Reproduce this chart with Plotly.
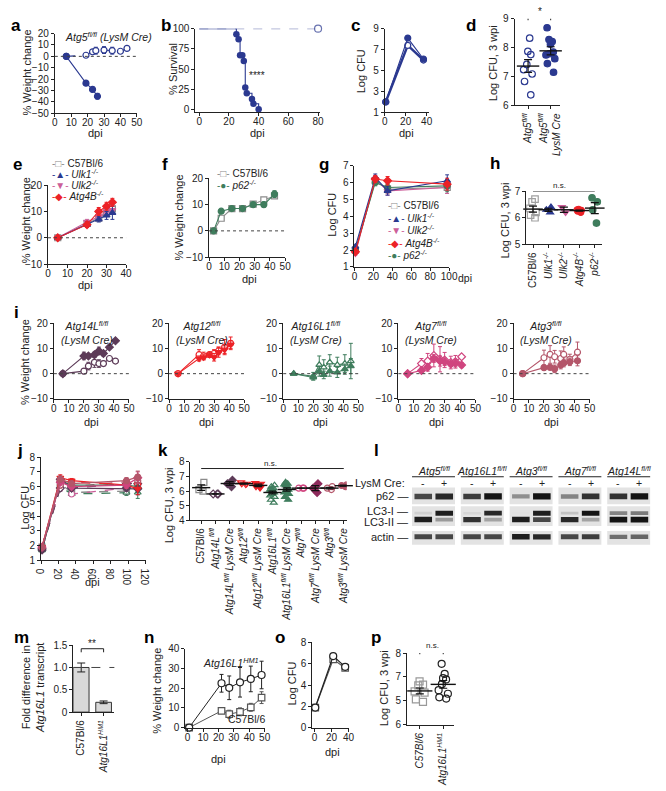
import numpy as np
import plotly.graph_objects as go

W, H = 666, 791
FONT = "Liberation Sans, Arial, sans-serif"

# ---------------- DATA ----------------
# a
a_x_cre = [7, 19, 23, 26]
a_y_cre = [0, -23.5, -29, -35]
a_e_cre = [0.5, 2, 2, 2.5]
a_x_fl = [7, 19, 23, 25, 30, 35, 40, 44]
a_y_fl = [0, 1, 4, 5, 5.5, 5, 4.5, 7]
a_e_fl = [0, 1, 2, 3, 3, 3, 1, 1.5]
# b
b_x_cre = [0, 25, 26.5, 27.5, 29, 30, 31, 32, 35.5, 36.5, 40]
b_y_cre = [100, 93, 87, 67, 67, 60, 27, 20, 13, 7, 0]
b_x_fl = [0, 80]
b_y_fl = [100, 100]
# c
c_x = [1, 22, 37]
c_y_cre = [2.0, 8.1, 6.1]
c_y_fl = [2.0, 7.4, 6.0]
# d
d_labels = ["<i>Atg5<sup>fl/fl</sup></i>", "<i>Atg5<sup>fl/fl</sup><br>LysM Cre</i>"]
d_fl = [8.33, 7.87, 7.76, 7.42, 7.24, 7.09, 6.83, 6.37]
d_cre = [8.69, 8.28, 8.21, 8.12, 7.85, 7.79, 7.75, 7.62, 7.45, 7.15]
# e
e_x = [5, 20, 26, 30, 33]
e_c57 = [0, 5.5, 7.5, 9.5, 11]
e_c57_err = [0, 1, 1.2, 1.5, 1.8]
e_ulk1 = [0, 5, 7, 8.5, 9.5]
e_ulk1_err = [0, 1, 1, 1.5, 2.5]
e_ulk2 = [0, 6, 8, 10, 10.5]
e_ulk2_err = [0, 1, 1, 1, 1.5]
e_atg4b = [0, 5, 10, 12, 13.5]
e_atg4b_err = [0, 1, 1.5, 1.5, 1.5]
# f
f_x = [3, 8, 15, 22, 29, 36, 43]
f_c57 = [0, 4.8, 8.5, 8.5, 10.2, 11.8, 13.3]
f_p62 = [0, 7.5, 8.5, 8.5, 10, 10, 14]
f_p62_err = [0, 0.3, 0.5, 0.5, 0.5, 1, 1.3]
# g
g_x = [1, 22, 35, 98]
g_c57 = [2.0, 6.1, 5.6, 5.7]
g_ulk1 = [2.2, 6.3, 5.5, 6.1]
g_ulk2 = [1.8, 6.2, 5.5, 5.7]
g_atg4b = [1.9, 6.2, 6.1, 5.9]
g_p62 = [2.0, 6.0, 5.7, 5.8]
g_err = [0.1, 0.2, 0.25, 0.35]
# h
h_labels = ["C57Bl/6", "<i>Ulk1<sup>-/-</sup></i>", "<i>Ulk2<sup>-/-</sup></i>",
            "<i>Atg4B<sup>-/-</sup></i>", "<i>p62<sup>-/-</sup></i>"]
h_c57 = [6.7, 6.6, 6.35, 6.2, 6.1, 6.0]
h_ulk1 = [6.4, 6.3, 6.2]
h_ulk2 = [6.4, 6.2]
h_atg4b = [6.32, 6.3, 6.28, 6.25, 6.2]
h_p62 = [6.75, 6.6, 6.3, 5.8]
# i
i1_x = [6, 20, 23, 27, 30, 33, 37, 41]
i1_fl = [0, 1, 3, 4.5, 4, 4, 6, 5]
i1_fl_err = [0, 1, 1.5, 2, 1.5, 1, 0.5, 0.5]
i1_cre = [0, 7, 7, 7.5, 9, 8, 10.5, 13]
i1_cre_err = [0, 1.5, 1, 1, 1.5, 1, 0.5, 0.5]
i2_x = [6, 20, 23, 27, 30, 33, 37, 41]
i2_fl = [0, 7.5, 7, 7.5, 8, 9, 10.5, 12]
i2_fl_err = [0, 2, 1.5, 1, 1.5, 1.5, 3, 2.5]
i2_cre = [0, 6, 6.5, 7.5, 6.5, 8.5, 9.5, 11.5]
i2_cre_err = [0, 1, 1, 1, 1.5, 2, 1.5, 1.5]
i3_x = [7, 20, 24, 27, 31, 36, 41, 45]
i3_fl = [0, -1, 3.5, 2.5, 4.5, 3.5, 4, 5]
i3_fl_err = [0, 1.5, 3.5, 3, 3, 3, 3.5, 7]
i3_cre = [0, -1.5, 1, -0.5, 1, 0.5, 1.8, 3]
i3_cre_err = [0, 1, 2, 1.5, 2, 2, 2, 3]
i4_x = [6, 15, 19, 23, 27, 30, 34, 37, 41]
i4_fl = [0, 4, 5, 7.2, 5.7, 5.4, 4.4, 4.7, 6.7]
i4_fl_err = [0, 2, 3, 4.5, 5, 3, 2.5, 2.5, 0.5]
i4_cre = [0, 1.3, 2.5, 6, 5, 4.7, 3.8, 4.2, 3.4]
i4_cre_err = [0, 1, 1.5, 1.5, 2, 1.5, 1, 1.5, 1]
i5_x = [6, 20, 24, 27, 31, 33, 37, 42]
i5_fl = [0, 6.3, 7.6, 6.7, 6, 7.6, 5.7, 8.5]
i5_fl_err = [0, 3, 3.5, 2.5, 3, 3, 2, 4]
i5_cre = [0, 2.4, 2.5, 1.9, 3.4, 4.2, 4.7, 5.1]
i5_cre_err = [0, 1, 0.5, 1.5, 1.5, 1.5, 1.5, 2]
i_titles = ["Atg14L", "Atg12", "Atg16L1", "Atg7", "Atg3"]
# j
j_x = [1, 22, 35, 98, 111]
j_c57 = [1.9, 6.2, 5.6, 5.7, None]
j_14_fl = [1.8, 5.9, 5.9, 6.2, 6.2]
j_14_cre = [1.7, 6.5, 5.9, 5.9, 5.85]
j_12_fl = [1.9, 6.4, 6.3, 6.1, 6.2]
j_12_cre = [1.9, 6.6, 6.4, 6.1, 5.85]
j_16_fl = [1.8, 6.0, 5.5, 5.6, 5.6]
j_16_cre = [1.7, 6.4, 6.1, 6.1, 6.0]
j_7_fl = [1.9, 5.9, 5.5, 5.9, 6.1]
j_7_cre = [1.9, 6.3, 6.0, 6.1, 6.6]
j_3_fl = [1.9, 6.1, 6.0, 6.3, 6.4]
j_3_cre = [1.9, 6.5, 6.2, 6.4, 6.65]
j_err = [0.15, 0.2, 0.15, 0.2, 0.4]
# k
k_labels = ["C57Bl/6", "<i>Atg14L<sup>fl/fl</sup></i>", "<i>Atg14L<sup>fl/fl</sup> LysM Cre</i>",
            "<i>Atg12<sup>fl/fl</sup></i>", "<i>Atg12<sup>fl/fl</sup> LysM Cre</i>",
            "<i>Atg16L1<sup>fl/fl</sup></i>", "<i>Atg16L1<sup>fl/fl</sup> LysM Cre</i>",
            "<i>Atg7<sup>fl/fl</sup></i>", "<i>Atg7<sup>fl/fl</sup> LysM Cre</i>",
            "<i>Atg3<sup>fl/fl</sup></i>", "<i>Atg3<sup>fl/fl</sup> LysM Cre</i>"]
k_values = [
    [6.6, 6.1, 6.0],
    [5.8, 5.8, 5.8],
    [6.75, 6.5, 6.3],
    [6.6, 6.5, 6.45, 6.5],
    [6.55, 6.5, 6.2, 6.3],
    [6.4, 6.3, 6.2, 6.1, 6.0, 6.0, 5.9, 5.8, 5.7, 5.6, 5.4, 5.2, 6.1],
    [6.6, 6.5, 6.45, 6.4, 6.3, 6.2, 6.1, 6.0, 5.9, 5.8, 5.6, 5.4],
    [6.2, 6.2, 6.2],
    [6.5, 6.2, 5.9],
    [6.3, 6.2, 6.1],
    [6.42, 6.38, 6.3],
]
# l (band intensities, 0..1) per genotype [-, +]
l_genotypes = ["Atg5", "Atg16L1", "Atg3", "Atg7", "Atg14L"]
l_p62 = [[0.75, 0.9], [0.8, 1.0], [0.4, 1.0], [0.45, 0.85], [0.85, 1.0]]
l_lc3i = [[0.08, 0.95], [0.05, 0.9], [0.0, 0.95], [0.15, 1.0], [0.45, 0.5]]
l_lc3ii = [[0.95, 0.35], [0.85, 0.3], [0.95, 0.75], [0.9, 0.3], [1.0, 1.0]]
l_actin = [[0.75, 0.75], [0.75, 0.75], [0.95, 0.9], [0.75, 0.8], [0.55, 0.6]]
# m
m_labels = ["C57Bl/6", "<i>Atg16L1<sup>HM1</sup></i>"]
m_vals = [1.0, 0.22]
m_err = [0.1, 0.03]
# n
n_x = [1, 22, 27, 34, 41, 48]
n_hm1 = [0, 22.5, 20.2, 23, 24.7, 26.7]
n_hm1_err = [0, 4.5, 6, 7.5, 6.5, 7]
n_c57 = [0, 8.5, 6.8, 8, 10.3, 15.2]
n_c57_err = [0, 1, 2, 2, 2, 3]
# o
o_x = [1, 22, 36]
o_hm1 = [1.9, 6.7, 5.7]
o_c57 = [1.9, 6.4, 5.6]
# p  (axis labelled 8,7,5,6 top to bottom as in the source)
p_labels = ["<i>C57Bl/6</i>", "<i>Atg16L1<sup>HM1</sup></i>"]
p_c57 = [6.82, 6.68, 6.65, 6.4, 6.35, 6.07, 5.96]
p_hm1 = [7.55, 7.13, 6.95, 6.9, 6.7, 6.45, 6.3, 6.15, 6.1]

# ---------------- STYLE ----------------
NAVY = "#2b3990"
GREY = "#8a8a8a"
PINK = "#cc5f9a"
RED = "#ec2227"
GREEN = "#3f7d5d"
PURP = "#5d3b58"
MAG = "#d0457f"
MAUVE = "#b4566a"
TICKF = 10

fig = go.Figure()
layout = {}
shapes = []
annots = []
_n = [0]


def fx(p):
    return p / W


def fy(p):
    return 1 - p / H


def make_axes(xpx, ypx, xr, yr, xticks=None, yticks=None, xtext=None, ytext=None,
              xangle=None, visible=True):
    _n[0] += 1
    n = _n[0]
    s = '' if n == 1 else str(n)
    xk, yk = 'x' + s, 'y' + s
    common = dict(showline=True, linecolor='#222', linewidth=1, ticks='outside', ticklen=3,
                  tickwidth=1, tickcolor='#222', showgrid=False, zeroline=False,
                  tickfont=dict(size=TICKF, color='#222', family=FONT), fixedrange=True,
                  visible=visible)
    xa = dict(common, domain=[fx(xpx[0]), fx(xpx[1])], range=xr, anchor=yk)
    ya = dict(common, domain=[fy(ypx[1]), fy(ypx[0])], range=yr, anchor=xk)
    if xticks is not None:
        xa.update(tickmode='array', tickvals=xticks)
        if xtext is not None:
            xa['ticktext'] = xtext
    if yticks is not None:
        ya.update(tickmode='array', tickvals=yticks)
        if ytext is not None:
            ya['ticktext'] = ytext
    if xangle is not None:
        xa['tickangle'] = xangle
    else:
        xa['ticklabelstandoff'] = -3
    layout['xaxis' + s] = xa
    layout['yaxis' + s] = ya
    return xk, yk


def txt(xp, yp, text, size=11, angle=0, xa='center', ya='middle', color='#222'):
    annots.append(dict(x=fx(xp), y=fy(yp), xref='paper', yref='paper', text=text,
                       showarrow=False, font=dict(size=size, color=color, family=FONT),
                       textangle=angle, xanchor=xa, yanchor=ya))


def letter(xp, yp, t):
    txt(xp, yp, "<b>%s</b>" % t, size=17, xa='center', ya='middle', color='black')


def zero_line(xk, yk, val=0, dash='dot'):
    shapes.append(dict(type='line', xref=xk + ' domain', yref=yk, x0=0, x1=1, y0=val, y1=val,
                       line=dict(color='#444', width=1, dash=dash)))


def series(xk, yk, x, y, color, symbol='circle', filled=True, err=None, dash='solid',
           size=6, lw=1.1):
    marker = dict(symbol=symbol, size=size,
                  color=color if filled else 'white', line=dict(color=color, width=1.2))
    tr = go.Scatter(x=x, y=y, xaxis=xk, yaxis=yk, mode='lines+markers',
                    line=dict(color=color, width=lw, dash=dash), marker=marker,
                    showlegend=False, cliponaxis=False, connectgaps=False)
    if err is not None:
        tr.error_y = dict(type='data', array=err, color=color, thickness=1, width=2)
    fig.add_trace(tr)


def dots(xk, yk, pos, vals, color, symbol, filled, size=6, jitter=0.7, width=0.6, mw=16):
    fig.add_trace(go.Box(x=[pos] * len(vals), y=vals, xaxis=xk, yaxis=yk, boxpoints='all',
                         jitter=jitter, pointpos=0, width=width,
                         fillcolor='rgba(0,0,0,0)', line=dict(color='rgba(0,0,0,0)', width=0),
                         marker=dict(symbol=symbol, size=size,
                                     color=color if filled else 'rgba(255,255,255,0)',
                                     line=dict(color=color, width=1.2)),
                         showlegend=False, hoverinfo='skip'))
    m = float(np.mean(vals))
    s = float(np.std(vals, ddof=1) / np.sqrt(len(vals)))
    fig.add_trace(go.Scatter(x=[pos], y=[m], xaxis=xk, yaxis=yk, mode='markers',
                             marker=dict(symbol='line-ew', size=mw,
                                         line=dict(color='#111', width=1.4)),
                             error_y=dict(type='data', array=[s], color='#111', thickness=1.2,
                                          width=4),
                             showlegend=False, cliponaxis=False))


def bracket(xk, yk, x0, x1, ytop, ybot):
    shapes.append(dict(type='path', xref=xk, yref=yk,
                       path=f"M {x0},{ybot} L {x0},{ytop} L {x1},{ytop} L {x1},{ybot}",
                       line=dict(color='#222', width=1)))


def hline(xk, yk, x0, x1, yv):
    shapes.append(dict(type='line', xref=xk, yref=yk, x0=x0, x1=x1, y0=yv, y1=yv,
                       line=dict(color='#222', width=1)))


def legend_rows(x0, y0, dy, items):
    for i, (c, sym, lab) in enumerate(items):
        txt(x0, y0 + i * dy, f"<span style='color:{c}'>-{sym}-</span> {lab}", size=10, xa='left')


# ---------------- PANEL a ----------------
xk, yk = make_axes((49, 133), (28, 109), [0, 50], [-50, 20],
                   xticks=list(range(0, 51, 10)), yticks=list(range(-50, 21, 10)))
zero_line(xk, yk)
series(xk, yk, a_x_fl, a_y_fl, NAVY, 'circle', False, a_e_fl, dash='dash')
series(xk, yk, a_x_cre, a_y_cre, NAVY, 'circle', True, a_e_cre)
txt(20, 68, "% Weight change", angle=-90)
txt(91, 129, "dpi")
txt(57, 31, "<i>Atg5<sup>fl/fl</sup> (LysM Cre)</i>", size=10.5, xa='left')
letter(9, 20, 'a')

# ---------------- PANEL b ----------------
xk, yk = make_axes((193, 321), (23, 108), [-2.6, 81.5], [-3.7, 100],
                   xticks=[0, 20, 40, 60, 80], yticks=[0, 25, 50, 75, 100])
fig.add_trace(go.Scatter(x=b_x_fl, y=b_y_fl, xaxis=xk, yaxis=yk, mode='lines+markers',
                         line=dict(color=NAVY, width=1, dash='dash'),
                         marker=dict(size=[0, 7], color='white', line=dict(color=NAVY, width=1.2)),
                         showlegend=False, cliponaxis=False))
fig.add_trace(go.Scatter(x=b_x_cre, y=b_y_cre, xaxis=xk, yaxis=yk, mode='lines',
                         line=dict(color=NAVY, width=1.1, shape='hv'), showlegend=False))
fig.add_trace(go.Scatter(x=b_x_cre[1:], y=b_y_cre[1:], xaxis=xk, yaxis=yk, mode='markers',
                         marker=dict(size=6.5, color=NAVY), showlegend=False, cliponaxis=False))
txt(170, 64, "% Survival", angle=-90)
txt(257, 129, "dpi")
txt(256, 71, "****", size=10)
letter(163, 20, 'b')

# ---------------- PANEL c ----------------
xk, yk = make_axes((387, 432), (23, 108), [0, 41.9], [1, 9],
                   xticks=[0, 20, 40], yticks=[1, 3, 5, 7, 9])
series(xk, yk, c_x, c_y_fl, NAVY, 'circle', False, lw=2.5, size=6)
series(xk, yk, c_x, c_y_cre, NAVY, 'circle', True, lw=1.2, size=6)
txt(363, 66, "Log CFU", angle=-90)
txt(409, 129, "dpi")
letter(357, 20, 'c')

# ---------------- PANEL d ----------------
xk, yk = make_axes((520, 567), (13, 101), [-0.6, 1.43], [6, 9],
                   xticks=[0, 1], xtext=d_labels, yticks=[6, 7, 8, 9], xangle=-90)
dots(xk, yk, 0, d_fl, NAVY, 'circle', False, size=6.5, width=0.7)
dots(xk, yk, 1, d_cre, NAVY, 'circle', True, size=6.5, width=0.7)
bracket(xk, yk, 0, 1, 9.07, 8.95)
txt(546, 6, "*", size=10)
txt(498, 58, "Log CFU, 3 wpi", angle=-90)
letter(475, 20, 'd')

# ---------------- PANEL e ----------------
xk, yk = make_axes((42, 122), (182, 262), [0, 40], [-10, 20],
                   xticks=[0, 10, 20, 30, 40], yticks=[-10, 0, 10, 20])
zero_line(xk, yk)
series(xk, yk, e_x, e_c57, GREY, 'square', False, e_c57_err)
series(xk, yk, e_x, e_ulk2, PINK, 'triangle-down', True, e_ulk2_err)
series(xk, yk, e_x, e_ulk1, NAVY, 'triangle-up', True, e_ulk1_err)
series(xk, yk, e_x, e_atg4b, RED, 'diamond', True, e_atg4b_err)
txt(19, 218, "% Weight change", angle=-90)
txt(80, 283, "dpi")
legend_rows(44, 160, 10.9, [(GREY, "□", "C57Bl/6"), (NAVY, "▲", "<i>Ulk1<sup>-/-</sup></i>"),
                            (PINK, "▼", "<i>Ulk2<sup>-/-</sup></i>"),
                            (RED, "◆", "<i>Atg4B<sup>-/-</sup></i>")])
letter(11, 161, 'e')

# ---------------- PANEL f ----------------
xk, yk = make_axes((207, 285), (175, 255), [0, 50], [-10, 20],
                   xticks=list(range(0, 51, 10)), yticks=[-10, 0, 10, 20])
zero_line(xk, yk)
series(xk, yk, f_x, f_c57, GREY, 'square', False)
series(xk, yk, f_x, f_p62, GREEN, 'circle', True, f_p62_err)
txt(176, 215, "% Weight change", angle=-90)
txt(248, 277, "dpi")
legend_rows(213, 170, 12, [(GREY, "□", "C57Bl/6"), (GREEN, "●", "<i>p62<sup>-/-</sup></i>")])
letter(162, 161, 'f')

# ---------------- PANEL g ----------------
xk, yk = make_axes((356, 453), (162, 265), [0, 100], [1, 7],
                   xticks=list(range(0, 101, 20)), yticks=list(range(1, 8)))
series(xk, yk, g_x, g_c57, GREY, 'square', False, g_err)
series(xk, yk, g_x, g_ulk2, PINK, 'triangle-down', True, g_err)
series(xk, yk, g_x, g_p62, GREEN, 'circle', True, g_err)
series(xk, yk, g_x, g_ulk1, NAVY, 'triangle-up', True, g_err)
series(xk, yk, g_x, g_atg4b, RED, 'diamond', True, g_err)
txt(333, 212, "Log CFU", angle=-90)
txt(469, 276, "dpi", size=10.5)
legend_rows(388, 203, 12.4, [(GREY, "□", "C57Bl/6"), (NAVY, "▲", "<i>Ulk1<sup>-/-</sup></i>"),
                             (PINK, "▼", "<i>Ulk2<sup>-/-</sup></i>"),
                             (RED, "◆", "<i>Atg4B<sup>-/-</sup></i>"),
                             (GREEN, "●", "<i>p62<sup>-/-</sup></i>")])
letter(325, 161, 'g')

# ---------------- PANEL h ----------------
xk, yk = make_axes((532, 610), (188, 242), [-0.44, 4.49], [5, 7],
                   xticks=list(range(5)), xtext=h_labels, yticks=[5, 6, 7], xangle=-90)
dots(xk, yk, 0, h_c57, "#a0a0a0", 'square', False, size=6.5, width=0.7, mw=14)
dots(xk, yk, 1, h_ulk1, NAVY, 'triangle-up', True, size=6, width=0.6, mw=14)
dots(xk, yk, 2, h_ulk2, PINK, 'triangle-down', True, size=6, width=0.6, mw=14)
dots(xk, yk, 3, h_atg4b, RED, 'circle', True, size=6, width=0.5, mw=14)
dots(xk, yk, 4, h_p62, GREEN, 'circle', True, size=6.5, width=0.6, mw=14)
hline(xk, yk, 0, 4, 7.0)
txt(566, 182, "n.s.", size=8)
txt(510, 218, "Log CFU, 3 wpi", angle=-90)
letter(500, 160, 'h')

# ---------------- PANEL i ----------------
i_dom = [(48, 125), (166, 243), (283, 360), (401, 480), (519, 597)]
i_data = [
    (i1_x, i1_fl, i1_fl_err, i1_cre, i1_cre_err, PURP, 'circle', 'diamond'),
    (i2_x, i2_fl, i2_fl_err, i2_cre, i2_cre_err, RED, 'circle', 'triangle-down'),
    (i3_x, i3_fl, i3_fl_err, i3_cre, i3_cre_err, GREEN, 'triangle-up', 'triangle-up'),
    (i4_x, i4_fl, i4_fl_err, i4_cre, i4_cre_err, MAG, 'diamond', 'diamond'),
    (i5_x, i5_fl, i5_fl_err, i5_cre, i5_cre_err, MAUVE, 'circle', 'circle'),
]
for k_i, (dom, d) in enumerate(zip(i_dom, i_data)):
    xk, yk = make_axes(dom, (322, 399), [0, 50], [-10, 20],
                       xticks=list(range(0, 51, 10)), yticks=[-10, 0, 10, 20])
    zero_line(xk, yk)
    x, yfl, efl, ycre, ecre, col, sfl, scre = d
    series(xk, yk, x, yfl, col, sfl, False, efl)
    series(xk, yk, x, ycre, col, scre, True, ecre)
    txt((dom[0] + dom[1]) / 2, 422, "dpi")
    txt(dom[0] + 5, 316, f"<i>{i_titles[k_i]}<sup>fl/fl</sup><br>(LysM Cre)</i>",
        size=10.5, xa='left', ya='top')
txt(18, 362, "% Weight change", angle=-90)
letter(10, 311, 'i')

# ---------------- PANEL j ----------------
xk, yk = make_axes((35, 142), (458, 563), [0, 120], [1, 8],
                   xticks=list(range(0, 121, 20)), yticks=list(range(1, 9)))
j_series = [
    (j_c57, GREY, 'square', False, 'dash'),
    (j_16_fl, GREEN, 'triangle-up', False, 'dash'),
    (j_7_fl, PINK, 'circle', False, 'dash'),
    (j_14_fl, PURP, 'diamond', False, 'dash'),
    (j_12_fl, RED, 'circle', False, 'dash'),
    (j_3_fl, MAUVE, 'circle', False, 'dash'),
    (j_16_cre, GREEN, 'triangle-up', True, 'solid'),
    (j_14_cre, PURP, 'diamond', True, 'solid'),
    (j_12_cre, RED, 'triangle-down', True, 'solid'),
    (j_7_cre, MAG, 'diamond', True, 'solid'),
    (j_3_cre, MAUVE, 'circle', True, 'solid'),
]
for yv, c, sym, fl, dsh in j_series:
    series(xk, yk, j_x, yv, c, sym, fl, j_err, dash=dsh, lw=1.3)
txt(19, 510, "Log CFU", angle=-90)
txt(88, 585, "dpi")
letter(13, 451, 'j')

# ---------------- PANEL k ----------------
xk, yk = make_axes((188, 348), (463, 522), [-0.75, 10.2], [4, 8],
                   xticks=list(range(11)), xtext=k_labels, yticks=[4, 5, 6, 7, 8], xangle=-90)
k_style = [(GREY, 'square', False), (PURP, 'diamond', False), (PURP, 'diamond', True),
           (RED, 'triangle-down', False), (RED, 'triangle-down', True),
           (GREEN, 'triangle-up', False), (GREEN, 'triangle-up', True),
           (MAG, 'circle', False), ("#8e2a5c", 'diamond', True),
           (MAUVE, 'circle', False), (MAUVE, 'circle', True)]
for ci, (vals, (c, sym, fl)) in enumerate(zip(k_values, k_style)):
    dots(xk, yk, ci, vals, c, sym, fl, size=6, width=0.7, mw=13)
hline(xk, yk, 0, 10, 7.55)
txt(270, 465, "n.s.", size=8)
txt(166, 507, "Log CFU, 3 wpi", angle=-90)
letter(160, 451, 'k')

# ---------------- PANEL l (western blot) ----------------
xk, yk = make_axes((360, 666), (462, 552), [-1.54, 4.58], [552, 462], visible=False)
blocks = list(range(len(l_genotypes)))
bg_rows = [(489, 17), (508, 20), (533, 14)]
for top, hgt in bg_rows:
    fig.add_trace(go.Bar(x=blocks, y=[hgt] * len(blocks), base=[top] * len(blocks),
                         width=0.88, xaxis=xk, yaxis=yk,
                         marker=dict(color='#e3e3e3', line=dict(width=0)),
                         showlegend=False, hoverinfo='skip'))
band_rows = [(l_p62, 498, 5.5), (l_lc3i, 515, 4.5), (l_lc3ii, 521.5, 5), (l_actin, 539, 5)]
for inten, yc, th in band_rows:
    xs, bases, hs, cols = [], [], [], []
    for g, pair in enumerate(inten):
        for li, v in enumerate(pair):
            t = th * (0.55 + 0.6 * v)
            xs.append(g + (-0.21 if li == 0 else 0.22))
            bases.append(yc - t / 2)
            hs.append(t)
            gv = int(225 - 205 * v)
            cols.append(f"rgb({gv},{gv},{gv})")
    fig.add_trace(go.Bar(x=xs, y=hs, base=bases, width=0.36, xaxis=xk, yaxis=yk,
                         marker=dict(color=cols, line=dict(width=0)),
                         showlegend=False, hoverinfo='skip'))
for g, name in enumerate(l_genotypes):
    annots.append(dict(x=g, y=472, xref=xk, yref=yk, text=f"<i>{name}<sup>fl/fl</sup></i>",
                       showarrow=False, font=dict(size=10.5, family=FONT, color='#222')))
    shapes.append(dict(type='line', xref=xk, yref=yk, x0=g - 0.44, x1=g + 0.44, y0=478, y1=478,
                       line=dict(color='#222', width=1)))
    for li, sgn in enumerate(["-", "+"]):
        annots.append(dict(x=g + (-0.21 if li == 0 else 0.22), y=484, xref=xk, yref=yk,
                           text=sgn, showarrow=False,
                           font=dict(size=10.5, family=FONT, color='#222')))
txt(410, 484, "LysM Cre:", size=11, xa='right')
for lab, yp in [("p62 —", 498), ("LC3-I —", 513), ("LC3-II —", 523.5), ("actin —", 539)]:
    txt(413, yp, lab, size=11, xa='right')
letter(379, 451, 'l')

# ---------------- PANEL m ----------------
xk, yk = make_axes((68, 110), (649, 717), [-0.35, 1.48], [0, 1.5],
                   xticks=[0, 1], xtext=m_labels, yticks=[0, 0.5, 1.0, 1.5],
                   ytext=["0", "0.5", "1.0", "1.5"], xangle=-90)
fig.add_trace(go.Bar(x=[0, 1], y=m_vals, width=0.7, xaxis=xk, yaxis=yk,
                     marker=dict(color='#d9d9d9', line=dict(color='#333', width=1)),
                     error_y=dict(type='data', array=m_err, color='#222', thickness=1, width=4),
                     showlegend=False))
zero_line(xk, yk, 1.0, dash='dash')
bracket(xk, yk, 0, 1, 1.42, 1.34)
txt(87, 647, "**", size=10)
txt(26, 692, "Fold difference in<br><i>Atg16L1</i> transcript", angle=-90, size=11)
letter(15, 641, 'm')

# ---------------- PANEL n ----------------
xk, yk = make_axes((182.7, 264), (652.7, 732.7), [-1.5, 50], [0, 40],
                   xticks=list(range(0, 51, 10)), yticks=list(range(0, 41, 10)))
series(xk, yk, n_x, n_c57, "#555", 'square', False, n_c57_err, size=6.5, lw=1)
series(xk, yk, n_x, n_hm1, "#222", 'circle', False, n_hm1_err, size=7, lw=1)
txt(230, 667, "<i>Atg16L1<sup>HM1</sup></i>", size=10.5)
txt(246, 724, "C57Bl/6", size=10.5)
txt(154, 695, "% Weight change", angle=-90)
txt(217, 765, "dpi")
letter(145, 641, 'n')

# ---------------- PANEL o ----------------
xk, yk = make_axes((312.7, 350), (646, 733), [-2.6, 40], [0, 8],
                   xticks=[0, 20, 40], yticks=[0, 2, 4, 6, 8])
series(xk, yk, o_x, o_c57, "#555", 'square', False, size=6.5, lw=1.2)
series(xk, yk, o_x, o_hm1, "#222", 'circle', False, size=7, lw=1.2)
txt(292, 688, "Log CFU", angle=-90)
txt(334, 757, "dpi")
letter(280, 641, 'o')

# ---------------- PANEL p ----------------
xk, yk = make_axes((410, 458), (657, 730), [-0.54, 1.46], [5, 8],
                   xticks=[0, 1], xtext=p_labels, yticks=[5, 6, 7, 8],
                   ytext=["6", "5", "7", "8"], xangle=-90)
dots(xk, yk, 0, p_c57, "#999", 'square', False, size=7, width=0.75, mw=18)
dots(xk, yk, 1, p_hm1, "#222", 'circle', False, size=7, width=0.75, mw=18)
bracket(xk, yk, 0, 1, 8.04, 7.95)
txt(436, 649, "n.s.", size=8)
txt(387, 693, "Log CFU, 3 wpi", angle=-90)
letter(378, 641, 'p')

try:
    fig.update_layout(**layout)
except ValueError:
    for v in layout.values():
        v.pop('ticklabelstandoff', None)
    fig.update_layout(**layout)
fig.update_layout(width=W, height=H, margin=dict(l=0, r=0, t=0, b=0), autosize=False,
                  paper_bgcolor='white', plot_bgcolor='white', showlegend=False,
                  barmode='overlay', shapes=shapes, annotations=annots,
                  font=dict(family=FONT, color='#222', size=11))
fig.write_html("out.html", config={'displayModeBar': False, 'staticPlot': True},
               post_script="document.body.style.margin='0px';document.body.style.padding='0px';document.body.style.overflow='hidden';")
